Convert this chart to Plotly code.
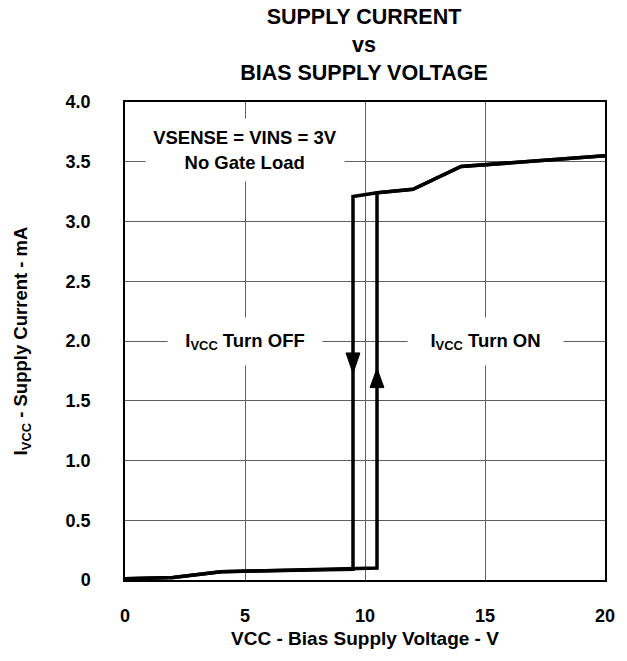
import plotly.graph_objects as go

# Turn-ON path (increasing VCC)
on_v = [0, 2, 4, 10.5, 10.5, 12, 14, 16, 18, 20]
on_i = [0.01, 0.02, 0.07, 0.10, 3.24, 3.27, 3.46, 3.49, 3.52, 3.55]
# Turn-OFF path (decreasing VCC)
off_v = [20, 18, 16, 14, 12, 10.5, 9.5, 9.5, 4, 2, 0]
off_i = [3.55, 3.52, 3.49, 3.46, 3.27, 3.24, 3.21, 0.09, 0.07, 0.02, 0.01]

# Direction arrows: (voltage, tip current, base current)
arrow_off = (9.5, 1.73, 1.90)
arrow_on = (10.5, 1.77, 1.61)
ARROW_HALF_W = 0.29  # half width of arrow head, in volts

x_ticks = [0, 5, 10, 15, 20]
x_ticktext = ["0", "5", "10", "15", "20"]
y_ticks = [0, 0.5, 1.0, 1.5, 2.0, 2.5, 3.0, 3.5, 4.0]
y_ticktext = ["0", "0.5", "1.0", "1.5", "2.0", "2.5", "3.0", "3.5", "4.0"]

FONT = "Liberation Sans, Arial, sans-serif"
W, H = 619, 653  # page body adds 8px offset

fig = go.Figure()
fig.add_trace(go.Scatter(x=on_v, y=on_i, mode="lines",
                         line=dict(color="black", width=3.5), showlegend=False,
                         hoverinfo="skip"))
fig.add_trace(go.Scatter(x=off_v, y=off_i, mode="lines",
                         line=dict(color="black", width=3.5), showlegend=False,
                         hoverinfo="skip"))
for (v, tip, base) in (arrow_off, arrow_on):
    fig.add_trace(go.Scatter(
        x=[v - ARROW_HALF_W, v + ARROW_HALF_W, v, v - ARROW_HALF_W],
        y=[base, base, tip, base],
        mode="lines", fill="toself", fillcolor="black",
        line=dict(color="black", width=1), showlegend=False, hoverinfo="skip"))

ann_font = dict(family=FONT, size=18.5, color="black", weight="bold")
fig.add_annotation(x=5.0, y=3.60, text="VSENSE = VINS = 3V<br>No Gate Load",
                   showarrow=False, font=ann_font, bgcolor="white",
                   borderpad=0, width=198, height=62)
fig.add_annotation(x=5.0, y=2.0, text="I<sub>VCC</sub> Turn OFF", showarrow=False,
                   font=ann_font, bgcolor="white", borderpad=0, width=154, height=47)
fig.add_annotation(x=15.04, y=2.0, text="I<sub>VCC</sub> Turn ON", showarrow=False,
                   font=ann_font, bgcolor="white", borderpad=0, width=155, height=47)

fig.update_layout(
    width=W, height=H,
    paper_bgcolor="white", plot_bgcolor="white",
    margin=dict(l=115, r=22, t=94, b=81),
    title=dict(text="SUPPLY CURRENT<br>vs<br>BIAS SUPPLY VOLTAGE",
               xref="container", x=356 / W, xanchor="center",
               yref="container", y=1 - 16 / H, yanchor="top", pad=dict(t=0),
               font=dict(family=FONT, size=21.5, color="black", weight="bold")),
    font=dict(family=FONT, size=18, color="black"),
)
fig.update_xaxes(range=[0, 20], tickvals=x_ticks, ticktext=x_ticktext, showgrid=True,
                 gridcolor="#5f5f5f", gridwidth=1, zeroline=False, showline=True,
                 linecolor="black", linewidth=1.5, mirror=True, ticks="",
                 ticklabelstandoff=19,
                 tickfont=dict(family=FONT, size=18, color="black", weight="bold"),
                 title=dict(text="VCC - Bias Supply Voltage - V", standoff=6,
                            font=dict(family=FONT, size=19, color="black", weight="bold")))
fig.update_yaxes(range=[0, 4], tickvals=y_ticks, ticktext=y_ticktext, showgrid=True,
                 gridcolor="#5f5f5f", gridwidth=1, zeroline=False, showline=True,
                 linecolor="black", linewidth=1.5, mirror=True, ticks="",
                 ticklabelstandoff=29,
                 tickfont=dict(family=FONT, size=18, color="black", weight="bold"),
                 title=dict(text="I<sub>VCC</sub> - Supply Current - mA", standoff=33,
                            font=dict(family=FONT, size=18.5, color="black", weight="bold")))

fig.write_html("out.html")
